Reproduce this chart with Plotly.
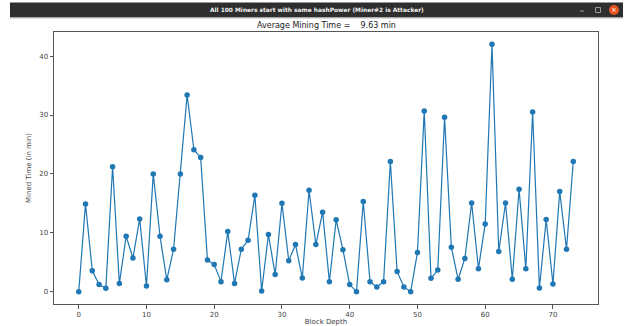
import plotly.graph_objects as go

# Minutes taken to mine each block, indexed by block depth
block_depth = list(range(74))
mined_time = [
    0.0, 14.9, 3.55, 1.2, 0.56, 21.2, 1.4, 9.4, 5.7, 12.35,
    0.96, 20.0, 9.4, 2.0, 7.2, 20.0, 33.4, 24.1, 22.8, 5.36,
    4.6, 1.7, 10.2, 1.4, 7.2, 8.74, 16.36, 0.1, 9.7, 2.9,
    15.0, 5.25, 8.0, 2.3, 17.2, 8.0, 13.5, 1.7, 12.2, 7.1,
    1.2, 0.0, 15.3, 1.7, 0.8, 1.7, 22.1, 3.4, 0.8, 0.0,
    6.66, 30.7, 2.26, 3.67, 29.6, 7.56, 2.1, 5.64, 15.06, 3.9,
    11.5, 42.0, 6.8, 15.06, 2.1, 17.4, 3.9, 30.5, 0.6, 12.24,
    1.3, 17.0, 7.2, 22.1,
]
x_ticks = [0, 10, 20, 30, 40, 50, 60, 70]
y_ticks = [0, 10, 20, 30, 40]

avg_time = sum(mined_time) / len(mined_time)
window_title = "All 100 Miners start with same hashPower (Miner#2 is Attacker)"
plot_title = "Average Mining Time =" + "\u00a0" * 4 + f"{avg_time:.2f} min"

W, H = 630, 326
L, R, T, B = 54, 598, 32, 304  # plot-area edges in pixels


def px(xp):
    return (xp - L) / (R - L)


def py(yp):
    return (B - yp) / (B - T)


C0 = "#1f77b4"
fig = go.Figure(
    go.Scatter(
        x=block_depth, y=mined_time, mode="lines+markers",
        line=dict(color=C0, width=1.2),
        marker=dict(color=C0, size=5.5),
        hoverinfo="x+y",
    )
)

axis_common = dict(
    showgrid=False, zeroline=False, showline=True, mirror=True,
    linecolor="#555555", linewidth=1, ticks="outside", ticklen=3.5,
    tickwidth=0.8, tickcolor="#555555", automargin=False,
    tickfont=dict(family="DejaVu Sans", size=7, color="#444444"),
)

fig.update_layout(
    width=W, height=H,
    margin=dict(l=L, r=W - R, t=T, b=H - B, pad=0, autoexpand=False),
    paper_bgcolor="white", plot_bgcolor="white",
    showlegend=False,
    xaxis=dict(range=[-3.65, 76.65], tickvals=x_ticks,
               title=dict(text="Block Depth", standoff=2,
                          font=dict(family="DejaVu Sans", size=7, color="#444444")),
               **axis_common),
    yaxis=dict(range=[-2.1, 44.1], tickvals=y_ticks,
               title=dict(text="Mined Time (in min)", standoff=6,
                          font=dict(family="DejaVu Sans", size=7, color="#444444")),
               **axis_common),
)

shapes = [
    # window title bar
    dict(type="rect", xref="paper", yref="paper",
         x0=px(10), x1=px(623), y0=py(17.5), y1=py(2.5),
         fillcolor="#2e2e2e", line=dict(width=0), layer="above"),
    dict(type="line", xref="paper", yref="paper",
         x0=px(10), x1=px(623), y0=py(18), y1=py(18),
         line=dict(color="#bbbbbb", width=1), layer="above"),
    # close button
    dict(type="circle", xref="paper", yref="paper",
         x0=px(609), x1=px(619), y0=py(15), y1=py(5),
         fillcolor="#e95420", line=dict(width=0), layer="above"),
    # minimise button
    dict(type="line", xref="paper", yref="paper",
         x0=px(580), x1=px(584), y0=py(11), y1=py(11),
         line=dict(color="#9a9a9a", width=1), layer="above"),
    # maximise button
    dict(type="rect", xref="paper", yref="paper",
         x0=px(595.5), x1=px(600.5), y0=py(12.5), y1=py(7.5),
         line=dict(color="#9a9a9a", width=1), fillcolor="rgba(0,0,0,0)",
         layer="above"),
]
fig.update_layout(shapes=shapes)

fig.add_annotation(
    x=px(317), y=py(10), xref="paper", yref="paper", showarrow=False,
    text=f"<b>{window_title}</b>", xanchor="center", yanchor="middle",
    font=dict(family="DejaVu Sans", size=5.9, color="#f2f2f2"),
)
fig.add_annotation(
    x=px(614), y=py(10), xref="paper", yref="paper", showarrow=False,
    text="×", xanchor="center", yanchor="middle",
    font=dict(family="DejaVu Sans", size=7, color="white"),
)
fig.add_annotation(
    x=px(326), y=py(25), xref="paper", yref="paper", showarrow=False,
    text=plot_title, xanchor="center", yanchor="middle",
    font=dict(family="DejaVu Sans", size=8, color="#222222"),
)

fig.write_html("out.html")
